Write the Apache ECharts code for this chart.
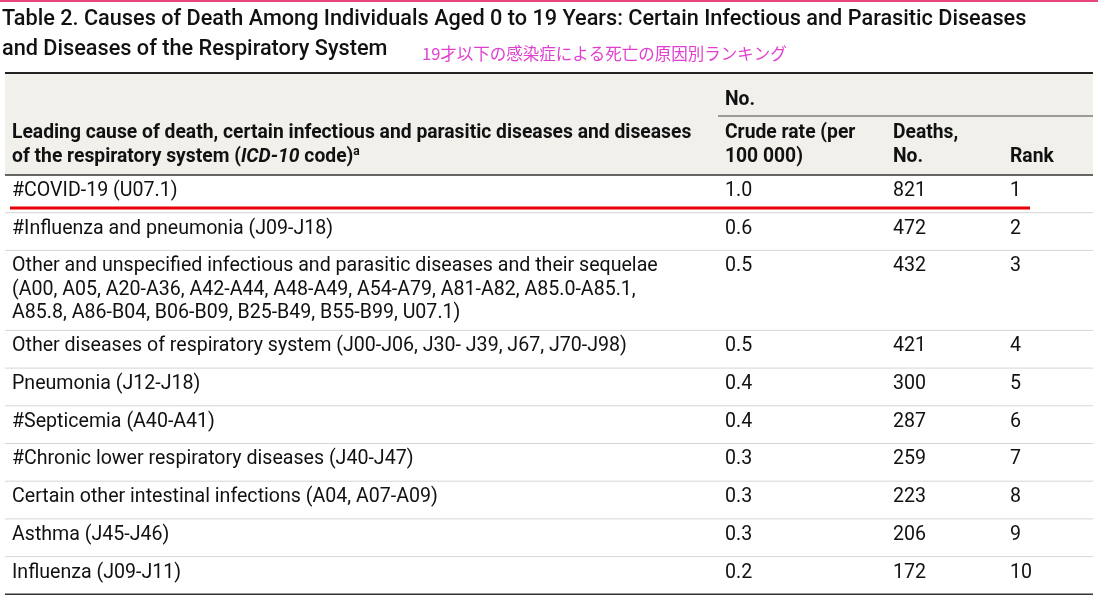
<!DOCTYPE html>
<html><head><meta charset="utf-8">
<script src="https://cdn.jsdelivr.net/npm/echarts@6/dist/echarts.min.js"></script>
<style>html,body{margin:0;padding:0;background:#fff}#main{width:1098px;height:597px}</style>
</head><body><div id="main"></div>
<script>
// table contents
let causes = [
  ["#COVID-19 (U07.1)"],
  ["#Influenza and pneumonia (J09-J18)"],
  ["Other and unspecified infectious and parasitic diseases and their sequelae",
   "(A00, A05, A20-A36, A42-A44, A48-A49, A54-A79, A81-A82, A85.0-A85.1,",
   "A85.8, A86-B04, B06-B09, B25-B49, B55-B99, U07.1)"],
  ["Other diseases of respiratory system (J00-J06, J30- J39, J67, J70-J98)"],
  ["Pneumonia (J12-J18)"],
  ["#Septicemia (A40-A41)"],
  ["#Chronic lower respiratory diseases (J40-J47)"],
  ["Certain other intestinal infections (A04, A07-A09)"],
  ["Asthma (J45-J46)"],
  ["Influenza (J09-J11)"]
]
let rates = ["1.0","0.6","0.5","0.5","0.4","0.4","0.3","0.3","0.3","0.2"]
let deaths = [821,472,432,421,300,287,259,223,206,172]
let ranks = [1,2,3,4,5,6,7,8,9,10]

let font = "Roboto, 'Noto Sans', sans-serif"
let ink = "#111"
let body = '19.6px ' + font
let bold = 'bold 19.3px ' + font
let colX = [12, 725, 893, 1010]
let lineH = 23.5
let els = []
function txt(x, y, s, extra){
    els.push({type:'text', x:x, y:y, style:Object.assign({text:s, fill:ink, font:body, textVerticalAlign:'middle'}, extra||{})})
}
function hline(x1, x2, y, w, c){
    els.push({type:'line', shape:{x1:x1, y1:y, x2:x2, y2:y}, style:{stroke:c, lineWidth:w}})
}

// title
els.push({type:'rect', shape:{x:0,y:0,width:1098,height:2}, style:{fill:'#e8467c'}})
txt(2, 20, "Table 2. Causes of Death Among Individuals Aged 0 to 19 Years: Certain Infectious and Parasitic Diseases", {font:'500 21.7px '+font})
txt(2, 50, "and Diseases of the Respiratory System", {font:'500 21.7px '+font})
txt(422, 54, "19才以下の感染症による死亡の原因別ランキング", {fill:'#e040d0', font:"16.5px 'Noto Sans CJK JP'"})

// header
els.push({type:'rect', shape:{x:5,y:73,width:1088,height:102}, style:{fill:'#f1f0eb'}})
hline(5, 1093, 73, 2, '#222')
txt(colX[1], 100, "No.", {font:bold})
hline(718, 1093, 116, 1, '#444')
txt(colX[0], 133, "Leading cause of death, certain infectious and parasitic diseases and diseases", {font:bold})
els.push({type:'text', x:colX[0], y:157, style:{
    text:"{b|of the respiratory system (}{i|ICD-10}{b| code)}{s|a}", textVerticalAlign:'middle',
    rich:{b:{font:bold, fill:ink}, i:{font:'italic '+bold, fill:ink}, s:{font:'bold 12px '+font, fill:ink, verticalAlign:'top', padding:[0,0,10,0]}}}})
txt(colX[1], 133, "Crude rate (per", {font:bold})
txt(colX[1], 157, "100 000)", {font:bold})
txt(colX[2], 133, "Deaths,", {font:bold})
txt(colX[2], 157, "No.", {font:bold})
txt(colX[3], 157, "Rank", {font:bold})
hline(5, 1093, 175, 1.5, '#333')

// rows
let y = 175
causes.forEach((c, i) => {
    let h = c.length > 1 ? 80 : 37.7
    let first = y + 16
    c.forEach((s, k) => txt(colX[0], first + k*lineH, s))
    txt(colX[1], first, rates[i])
    txt(colX[2], first, String(deaths[i]))
    txt(colX[3], first, String(ranks[i]))
    y += h
    if (i < causes.length - 1) hline(5, 1093, y, 1, '#d6d6d6')
})
hline(5, 1093, y, 1.5, '#333')
// red underline for COVID row
hline(10, 1030, 208, 3, '#e8000b')

let chart = echarts.init(document.getElementById('main'))
chart.setOption({graphic:{elements:els}})
</script></body></html>
